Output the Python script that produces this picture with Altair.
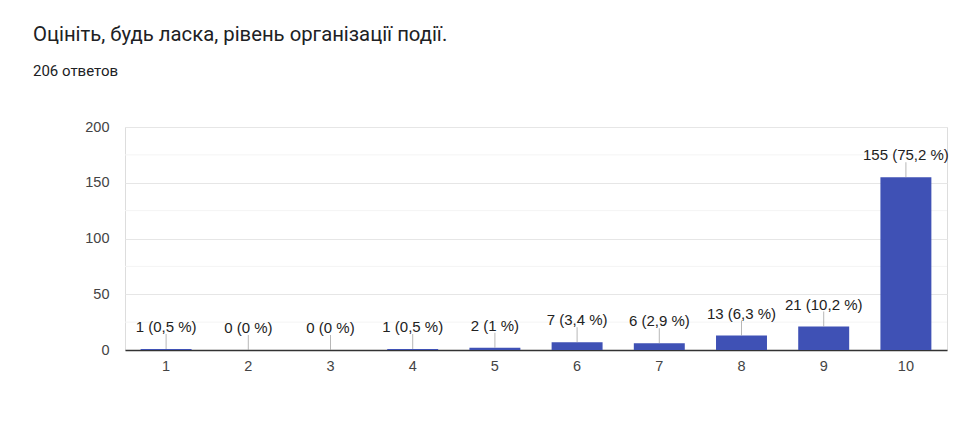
import altair as alt
import pandas as pd

categories = ["1", "2", "3", "4", "5", "6", "7", "8", "9", "10"]
counts = [1, 0, 0, 1, 2, 7, 6, 13, 21, 155]
percents = ["0,5", "0", "0", "0,5", "1", "3,4", "2,9", "6,3", "10,2", "75,2"]
minor_grid = [25, 75, 125, 175]

df = pd.DataFrame({
    "cat": categories,
    "count": counts,
    "label": [f"{c} ({p} %)" for c, p in zip(counts, percents)],
})
grid_df = pd.DataFrame({"v": minor_grid})

xenc = alt.X("cat:N", sort=categories, title=None,
             scale=alt.Scale(paddingInner=0.38, paddingOuter=0.19),
             axis=alt.Axis(labelAngle=0, labelFont="Liberation Sans", labelFontSize=14.5,
                           labelColor="#444444", labelPadding=9, ticks=False,
                           domainColor="#333333", domainWidth=1.5, grid=False))
yscale = alt.Scale(domain=[0, 200], nice=False)

minor = alt.Chart(grid_df).mark_rule(color="#f4f4f4", strokeWidth=1).encode(
    y=alt.Y("v:Q", scale=yscale)
)

bars = alt.Chart(df).mark_bar(color="#3f51b5").encode(
    x=xenc,
    y=alt.Y("count:Q", scale=yscale, title=None,
            axis=alt.Axis(values=[0, 50, 100, 150, 200], labelFont="Liberation Sans",
                          labelFontSize=14.5, labelColor="#444444", labelPadding=16,
                          ticks=False, domain=False, gridColor="#e6e6e6")),
)

leaders = alt.Chart(df).mark_tick(orient="vertical", size=15, thickness=1,
                                  color="#999999", yOffset=-7.5).encode(
    x=alt.X("cat:N", sort=categories),
    y=alt.Y("count:Q", scale=yscale),
)

labels = alt.Chart(df).mark_text(font="Liberation Sans", fontSize=15, color="#222222",
                                 baseline="middle", dy=-22).encode(
    x=alt.X("cat:N", sort=categories),
    y=alt.Y("count:Q", scale=yscale),
    text="label:N",
)

chart = alt.layer(minor, bars, leaders, labels).properties(
    width=822,
    height=223,
    title=alt.TitleParams(
        text="Оцініть, будь ласка, рівень організації події.",
        subtitle="206 ответов",
        anchor="start",
        frame="group",
        dx=-92,
        offset=40,
        font="Roboto",
        fontSize=20.3,
        fontWeight="normal",
        color="#202124",
        subtitleFont="Roboto",
        subtitleFontSize=15,
        subtitleColor="#202124",
        subtitlePadding=19,
    ),
    autosize=alt.AutoSizeParams(type="none"),
    padding={"left": 117, "top": 119, "right": 10, "bottom": 89},
).configure_view(stroke=None).configure(background="white")

chart.save("out.html", embed_options={"renderer": "svg", "actions": False})
